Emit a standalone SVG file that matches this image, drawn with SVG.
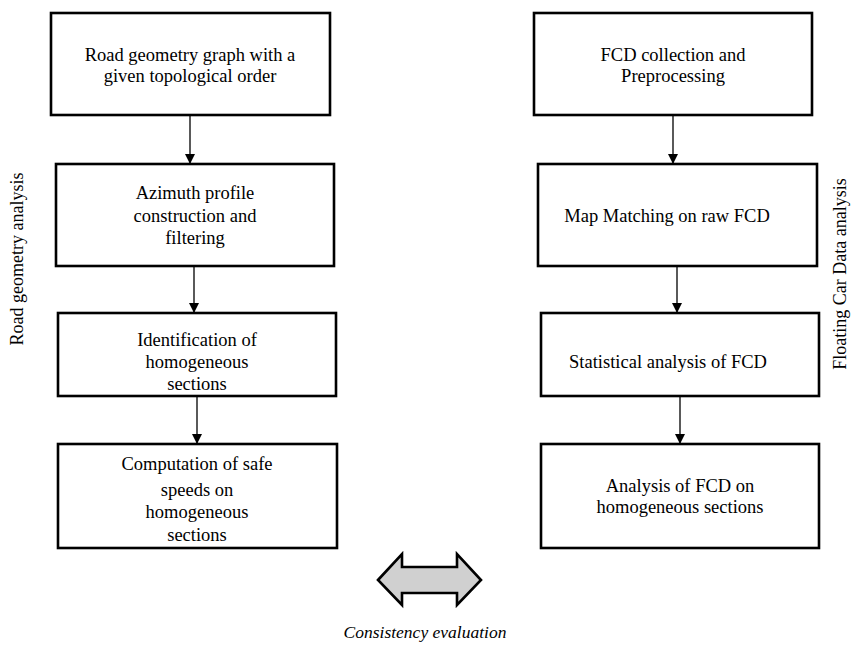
<svg xmlns="http://www.w3.org/2000/svg" width="856" height="646" viewBox="0 0 856 646">
<defs>
<style>
.box{fill:#fff;stroke:#000;stroke-width:2.6}
.t{font-size:18.5px;fill:#000;text-anchor:middle}
.side{font-size:18px;fill:#000;text-anchor:middle}
.cap{font-size:17.5px;font-style:italic;fill:#000;text-anchor:middle}
.ln{stroke:#000;stroke-width:1.3;fill:none}
</style>
<marker id="ah" viewBox="0 0 10 10" refX="10" refY="5" markerWidth="10" markerHeight="10" markerUnits="userSpaceOnUse" orient="auto">
<path d="M0,0 L10,5 L0,10 Z" fill="#000"/>
</marker>
</defs>
<rect width="856" height="646" fill="#fff"/>
<g id="connectors">
<line class="ln" x1="190" y1="115" x2="190" y2="164" marker-end="url(#ah)"/>
<line class="ln" x1="194" y1="266" x2="194" y2="313" marker-end="url(#ah)"/>
<line class="ln" x1="197" y1="396" x2="197" y2="444" marker-end="url(#ah)"/>
<line class="ln" x1="673" y1="115" x2="673" y2="164" marker-end="url(#ah)"/>
<line class="ln" x1="677" y1="266" x2="677" y2="313" marker-end="url(#ah)"/>
<line class="ln" x1="680" y1="396" x2="680" y2="444" marker-end="url(#ah)"/>
</g>
<g font-family="'Liberation Serif', 'DejaVu Serif', serif">
<g id="L1"><rect class="box" x="51" y="13" width="279" height="102"/>
<text class="t" x="190" y="61">Road geometry graph  with a</text>
<text class="t" x="190" y="82">given  topological order</text></g>
<g id="L2"><rect class="box" x="56" y="164" width="278" height="102"/>
<text class="t" x="195" y="199">Azimuth profile</text>
<text class="t" x="195" y="222">construction and</text>
<text class="t" x="195" y="244">filtering</text></g>
<g id="L3"><rect class="box" x="58" y="313" width="278" height="83"/>
<text class="t" x="197" y="346">Identification of</text>
<text class="t" x="197" y="368">homogeneous</text>
<text class="t" x="197" y="390">sections</text></g>
<g id="L4"><rect class="box" x="58" y="444" width="279" height="104"/>
<text class="t" x="197" y="470">Computation of safe</text>
<text class="t" x="197" y="496">speeds on</text>
<text class="t" x="197" y="518">homogeneous</text>
<text class="t" x="197" y="541">sections</text></g>
<g id="R1"><rect class="box" x="534" y="13" width="278" height="102"/>
<text class="t" x="673" y="61">FCD collection and</text>
<text class="t" x="673" y="82">Preprocessing</text></g>
<g id="R2"><rect class="box" x="538" y="164" width="279" height="102"/>
<text class="t" x="667" y="222">Map Matching on raw  FCD</text></g>
<g id="R3"><rect class="box" x="541" y="313" width="278" height="83"/>
<text class="t" x="668" y="368">Statistical analysis of  FCD</text></g>
<g id="R4"><rect class="box" x="541" y="444" width="278" height="104"/>
<text class="t" x="680" y="492">Analysis of FCD on</text>
<text class="t" x="680" y="513">homogeneous  sections</text></g>
<g id="sideL"><text class="side" transform="translate(23,259) rotate(-90)">Road geometry analysis</text></g>
<g id="sideR"><text class="side" transform="translate(846,274) rotate(-90)">Floating Car Data analysis</text></g>
<g id="consistency">
<path d="M378,580 L402,554 L402,567 L457,567 L457,554 L481,580 L457,605 L457,593 L402,593 L402,605 Z" fill="#d0d0d0" stroke="#000" stroke-width="2.6" stroke-linejoin="miter"/>
<text class="cap" x="425" y="638">Consistency evaluation</text>
</g>
</g>
</svg>
